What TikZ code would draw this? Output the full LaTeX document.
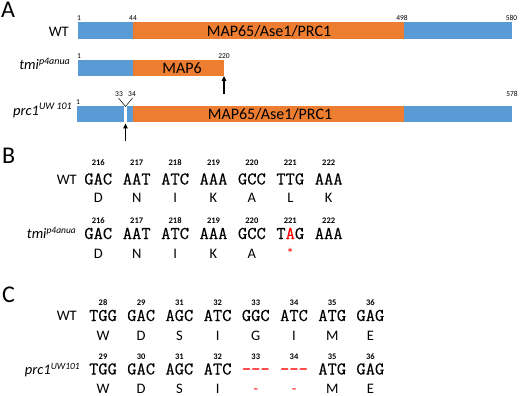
\documentclass[tikz,border=0pt]{standalone}
\usepackage{fontspec}
\setmainfont{Carlito}
\newfontfamily\cod[FakeBold=0.35]{Latin Modern Mono}
\usetikzlibrary{arrows.meta}
\definecolor{barblue}{HTML}{5B9BD5}
\definecolor{barorange}{HTML}{ED7D31}
\definecolor{mutred}{HTML}{FF0000}
\begin{document}
\begin{tikzpicture}[x=1pt,y=-1pt,
  lbl/.style={inner sep=0, anchor=base east, font=\fontsize{14.5}{15}\selectfont},
  lblb/.style={inner sep=0, anchor=base east, font=\fontsize{14.5}{15}\selectfont},
  panel/.style={inner sep=0, anchor=base west, font=\fontsize{24}{25}\selectfont},
  posnum/.style={inner sep=0, anchor=base, font=\fontsize{7.5}{8}\selectfont},
  num/.style={inner sep=0, anchor=base, font=\bfseries\fontsize{8.5}{9}\selectfont},
  cdn/.style={inner sep=0, anchor=base, font=\cod\fontsize{18}{19}\selectfont},
  aa/.style={inner sep=0, anchor=base, font=\fontsize{14.5}{15}\selectfont},
  domtxt/.style={inner sep=0, anchor=base, font=\fontsize{16}{17}\selectfont},
  seg/.style={draw=none, inner sep=0, outer sep=0, anchor=north west},
  bseg/.style={seg, fill=barblue},
  oseg/.style={seg, fill=barorange},
  ptr/.style={-{Triangle[length=5pt,width=4.5pt]}, line width=1.1pt},
]
\useasboundingbox (0,0) rectangle (520,396);
% ---------- panel A ----------
\node[panel] (pA) at (1,17.5) {A};
\node[lbl] (lwt) at (69,36.5) {WT};
\node[lbl] (ltmi) at (70,70) {\itshape tmi\raisebox{5.5pt}{\fontsize{10}{10}\selectfont p4anua}};
\node[lbl] (lprc) at (72,115) {\itshape prc1\raisebox{5.5pt}{\fontsize{10}{10}\selectfont UW 101}};
% WT bar
\node[bseg, minimum width=55pt, minimum height=17pt] (w1) at (78,22) {};
\node[oseg, minimum width=271pt, minimum height=17pt] (w2) at (133,22) {};
\node[bseg, minimum width=108pt, minimum height=17pt] (w3) at (404,22) {};
\node[domtxt] (wd) at (269,37) {MAP65/Ase1/PRC1};
\node[posnum] (wp1) at (79,20.5) {1};
\node[posnum] (wp44) at (133,20.5) {44};
\node[posnum] (wp498) at (402,20.5) {498};
\node[posnum] (wp580) at (511.5,20.5) {580};
% tmi bar
\node[bseg, minimum width=55pt, minimum height=16pt] (t1) at (78,60) {};
\node[oseg, minimum width=91pt, minimum height=16pt] (t2) at (133,60) {};
\node[domtxt] (td) at (182,73.5) {MAP6};
\node[posnum] (tp1) at (79,59) {1};
\node[posnum] (tp220) at (224,59) {220};
\coordinate (ta) at (224,94);
\draw[ptr] (ta) -- (t2.south east);
% prc1 bar
\node[bseg, minimum width=56pt, minimum height=16pt] (p1) at (77,106) {};
\node[oseg, minimum width=271pt, minimum height=16pt] (p2) at (133,106) {};
\node[bseg, minimum width=108pt, minimum height=16pt] (p3) at (404,106) {};
\node[seg, fill=white, minimum width=2.2pt, minimum height=16pt] (pgap) at (124.4,106) {};
\node[domtxt] (pd) at (270,120) {MAP65/Ase1/PRC1};
\node[posnum] (pp1) at (78,105) {1};
\node[posnum] (pp33) at (119,96) {33};
\node[posnum] (pp34) at (132,96) {34};
\node[posnum] (pp578) at (512,96) {578};
\coordinate (vl) at (118.5,98);
\coordinate (vm) at (125.5,106.5);
\coordinate (vr) at (132.5,98);
\draw[line width=0.5pt] (vl) -- (vm) -- (vr);
\coordinate (pa) at (125.5,141);
\coordinate (pah) at (125.5,123.5);
\draw[ptr] (pa) -- (pah);
% ---------- panel B ----------
\node[panel] (pB) at (2,163) {B};
\node[lblb] (bwt) at (77,184) {WT};
\node[lblb] (btmi) at (76,238.5) {\itshape tmi\raisebox{5pt}{\fontsize{9.5}{9.5}\selectfont p4anua}};
\foreach [count=\i] \n/\c/\a in {216/GAC/D,217/AAT/N,218/ATC/I,219/AAA/K,220/GCC/A,221/TTG/L,222/AAA/K} {
  \node[num] (bwn\i) at ({98.3+38.4*(\i-1)},165.5) {\n};
  \node[cdn] (bwc\i) at ({98.3+38.4*(\i-1)},184.5) {\c};
  \node[aa]  (bwa\i) at ({98.3+38.4*(\i-1)},202) {\a};
  \node[num] (bmn\i) at ({98.3+38.4*(\i-1)},223.5) {\n};
}
\foreach [count=\i] \c/\a in {GAC/D,AAT/N,ATC/I,AAA/K,GCC/A} {
  \node[cdn] (bmc\i) at ({98.3+38.4*(\i-1)},239) {\c};
  \node[aa]  (bma\i) at ({98.3+38.4*(\i-1)},258) {\a};
}
\node[cdn] (bmc6) at (290.3,239) {T\textcolor{mutred}{A}G};
\node[aa, text=mutred] (bma6) at (290.3,258) {*};
\node[cdn] (bmc7) at (328.7,239) {AAA};
% ---------- panel C ----------
\node[panel] (pC) at (2,302) {C};
\node[lblb] (cwt) at (77,320.5) {WT};
\node[lblb] (cprc) at (80,374) {\itshape prc1\raisebox{5pt}{\fontsize{9.5}{9.5}\selectfont UW101}};
\foreach [count=\i] \n/\c/\a in {28/TGG/W,29/GAC/D,31/AGC/S,32/ATC/I,33/GGC/G,34/ATC/I,35/ATG/M,36/GAG/E} {
  \node[num] (cwn\i) at ({103+38.2*(\i-1)},305) {\n};
  \node[cdn] (cwc\i) at ({103+38.2*(\i-1)},321) {\c};
  \node[aa]  (cwa\i) at ({103+38.2*(\i-1)},340) {\a};
}
\foreach [count=\i] \n/\c/\a in {29/TGG/W,30/GAC/D,31/AGC/S,32/ATC/I,33/\textcolor{mutred}{-{}-{}-}/\textcolor{mutred}{-},34/\textcolor{mutred}{-{}-{}-}/\textcolor{mutred}{-},35/ATG/M,36/GAG/E} {
  \node[num] (cmn\i) at ({103+38.2*(\i-1)},359) {\n};
  \node[cdn] (cmc\i) at ({103+38.2*(\i-1)},374.5) {\c};
  \node[aa]  (cma\i) at ({103+38.2*(\i-1)},393) {\a};
}
\end{tikzpicture}
\end{document}
